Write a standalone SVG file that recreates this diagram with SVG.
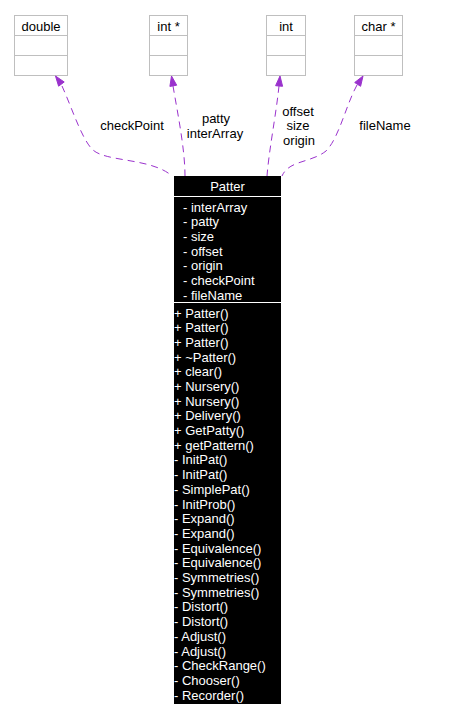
<svg xmlns="http://www.w3.org/2000/svg" width="457" height="718" viewBox="0 0 457 718">
<style>
text{font-family:"Liberation Sans",Arial,sans-serif;font-size:13px}
.tb{fill:#fff;stroke:#bfbfbf;stroke-width:1}
.ln{stroke:#bfbfbf;stroke-width:1}
.c{text-anchor:middle;fill:#000}
.w{fill:#fff}
.edge{fill:none;stroke:#9a32cd;stroke-width:1;stroke-dasharray:7,5}
.ah{fill:#9a32cd;stroke:#9a32cd}
</style>
<rect width="457" height="718" fill="#fff"/>
<g id="node_double">
<rect class="tb" x="14.5" y="15.5" width="53" height="60"/>
<line class="ln" x1="14.5" y1="35.5" x2="67.5" y2="35.5"/>
<line class="ln" x1="14.5" y1="55.5" x2="67.5" y2="55.5"/>
<text class="c" x="41" y="31">double</text>
</g>
<g id="node_intptr">
<rect class="tb" x="149.5" y="15.5" width="38" height="60"/>
<line class="ln" x1="149.5" y1="35.5" x2="187.5" y2="35.5"/>
<line class="ln" x1="149.5" y1="55.5" x2="187.5" y2="55.5"/>
<text class="c" x="168.5" y="31">int *</text>
</g>
<g id="node_int">
<rect class="tb" x="266.5" y="15.5" width="39" height="60"/>
<line class="ln" x1="266.5" y1="35.5" x2="305.5" y2="35.5"/>
<line class="ln" x1="266.5" y1="55.5" x2="305.5" y2="55.5"/>
<text class="c" x="286" y="31">int</text>
</g>
<g id="node_charptr">
<rect class="tb" x="354.5" y="15.5" width="48" height="60"/>
<line class="ln" x1="354.5" y1="35.5" x2="402.5" y2="35.5"/>
<line class="ln" x1="354.5" y1="55.5" x2="402.5" y2="55.5"/>
<text class="c" x="378.5" y="31">char *</text>
</g>
<g id="connectors">
<path class="edge" d="M62,86 C72,108 82,140 93,150 C106,162 152,158 172,176"/>
<polygon class="ah" points="55.5,76 64.2,82 58.6,86.2"/>
<text class="c" x="132" y="130">checkPoint</text>
<path class="edge" d="M173,86 C178,115 185,150 185,176"/>
<polygon class="ah" points="171.5,76 176.7,85.2 169.9,86.4"/>
<text class="c" x="216" y="123">patty</text>
<text class="c" x="215" y="137.5">interArray</text>
<path class="edge" d="M279,86 C276,115 269,150 267,176"/>
<polygon class="ah" points="280,76 282.6,86.3 275.6,85.7"/>
<text class="c" x="298" y="115.5">offset</text>
<text class="c" x="298" y="130">size</text>
<text class="c" x="299" y="144.5">origin</text>
<path class="edge" d="M357,85 C346,105 339,138 326,151 C311,163 289,160 282,176"/>
<polygon class="ah" points="363,76 360.6,86.3 354.7,82.5"/>
<text class="c" x="385" y="130">fileName</text>
</g>
<g id="node_Patter">
<rect x="174" y="176" width="107" height="528" fill="#000"/>
<line x1="174" y1="196.5" x2="281" y2="196.5" stroke="#fff" stroke-width="1"/>
<line x1="174" y1="302.5" x2="281" y2="302.5" stroke="#fff" stroke-width="1"/>
<text class="w" x="227.5" y="191" text-anchor="middle">Patter</text>
<g class="w">
<text x="183" y="211.5">- interArray</text>
<text x="183" y="226.2">- patty</text>
<text x="183" y="240.8">- size</text>
<text x="183" y="255.5">- offset</text>
<text x="183" y="270.2">- origin</text>
<text x="183" y="284.8">- checkPoint</text>
<text x="183" y="299.5">- fileName</text>
<text x="174" y="317.5">+ Patter()</text>
<text x="174" y="332.2">+ Patter()</text>
<text x="174" y="346.9">+ Patter()</text>
<text x="174" y="361.6">+ ~Patter()</text>
<text x="174" y="376.3">+ clear()</text>
<text x="174" y="391">+ Nursery()</text>
<text x="174" y="405.6">+ Nursery()</text>
<text x="174" y="420.3">+ Delivery()</text>
<text x="174" y="435">+ GetPatty()</text>
<text x="174" y="449.7">+ getPattern()</text>
<text x="174" y="464.4">- InitPat()</text>
<text x="174" y="479.1">- InitPat()</text>
<text x="174" y="493.8">- SimplePat()</text>
<text x="174" y="508.5">- InitProb()</text>
<text x="174" y="523.2">- Expand()</text>
<text x="174" y="537.9">- Expand()</text>
<text x="174" y="552.6">- Equivalence()</text>
<text x="174" y="567.3">- Equivalence()</text>
<text x="174" y="582">- Symmetries()</text>
<text x="174" y="596.7">- Symmetries()</text>
<text x="174" y="611.4">- Distort()</text>
<text x="174" y="626.1">- Distort()</text>
<text x="174" y="640.8">- Adjust()</text>
<text x="174" y="655.5">- Adjust()</text>
<text x="174" y="670.2">- CheckRange()</text>
<text x="174" y="684.9">- Chooser()</text>
<text x="174" y="699.6">- Recorder()</text>
</g>
</g>
</svg>
